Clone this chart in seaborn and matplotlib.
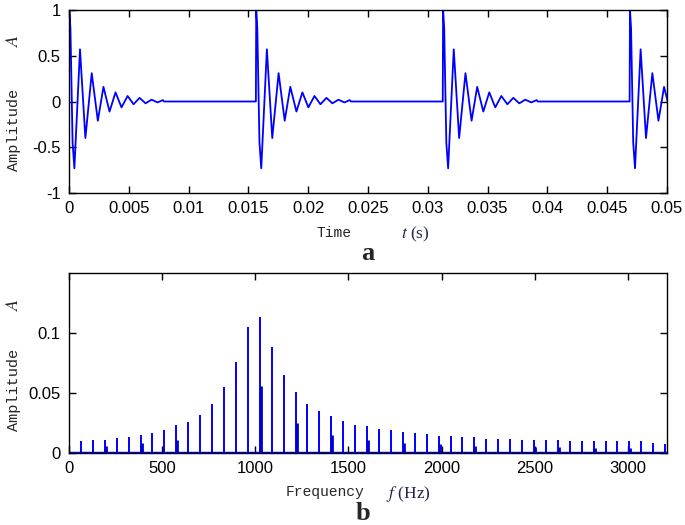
import numpy as np
import pandas as pd
import matplotlib
matplotlib.use("Agg")
import matplotlib.pyplot as plt
import seaborn as sns

# ---- data ----
# one decaying burst (time in ms from burst start, amplitude at each turning point)
burst_t_ms = [0.0, 0.03, 0.12, 0.30, 0.45, 0.92, 1.37, 1.90, 2.41, 2.88, 3.39,
              3.89, 4.39, 4.90, 5.40, 5.90, 6.40, 6.90, 7.40, 7.85, 7.95]
burst_amp = [0.0, 1.0, 0.80, -0.45, -0.73, 0.57, -0.40, 0.31, -0.21, 0.16, -0.11,
             0.10, -0.064, 0.06, -0.03, 0.04, -0.02, 0.02, -0.01, 0.015, 0.0]
burst_starts = [0.0, 0.015625, 0.03125, 0.046875]

# spectrum lines
freq_main = [0, 64, 128, 192, 256, 320, 384, 448, 512, 576, 640, 704, 768, 832,
             896, 960, 1024, 1088, 1152, 1216, 1280, 1344, 1408, 1472, 1536, 1600,
             1664, 1728, 1792, 1856, 1920, 1984, 2048, 2112, 2176, 2240, 2304, 2368,
             2432, 2496, 2560, 2624, 2688, 2752, 2816, 2880, 2944, 3008, 3072, 3136, 3200]
amp_main = [0.0097, 0.0103, 0.011, 0.011, 0.0125, 0.0136, 0.0147, 0.017, 0.0194,
            0.023, 0.026, 0.032, 0.041, 0.0547, 0.0756, 0.105, 0.113, 0.088, 0.065,
            0.0506, 0.041, 0.0353, 0.031, 0.027, 0.0236, 0.0222, 0.020, 0.0189,
            0.0178, 0.0167, 0.0158, 0.0142, 0.0142, 0.0133, 0.0133, 0.012, 0.012,
            0.012, 0.011, 0.011, 0.011, 0.011, 0.0097, 0.0097, 0.0097, 0.0097,
            0.0097, 0.0097, 0.0097, 0.0086, 0.0078]
freq_sub = [198, 390, 582, 1030, 1222, 1414, 1606, 1798, 1990, 2182, 2502, 2630, 2822, 3014]
amp_sub = [0.006, 0.0083, 0.011, 0.056, 0.025, 0.0147, 0.0106, 0.0083, 0.0072,
           0.006, 0.005, 0.005, 0.004, 0.004]

time_ticks = [0, 0.005, 0.01, 0.015, 0.02, 0.025, 0.03, 0.035, 0.04, 0.045, 0.05]
amp_ticks = [-1, -0.5, 0, 0.5, 1]
freq_ticks = [0, 500, 1000, 1500, 2000, 2500, 3000]
spec_ticks = [0, 0.05, 0.1]

# ---- style ----
sns.set_theme(style="ticks")
plt.rcParams["font.family"] = ["Liberation Sans", "DejaVu Sans"]
plt.rcParams["mathtext.fontset"] = "stix"
plt.rcParams["axes.linewidth"] = 1.0

W, H = 685, 525
fig = plt.figure(figsize=(W / 100, H / 100), dpi=100)
ax1 = fig.add_axes([69 / W, 1 - 193 / H, (667 - 69) / W, (193 - 10) / H])
ax2 = fig.add_axes([69 / W, 1 - 453 / H, (667 - 69) / W, (453 - 273) / H])

# ==========================
# a: time signal
# ==========================
sig = pd.DataFrame({
    "t": np.concatenate([s + np.array(burst_t_ms) / 1000 for s in burst_starts]),
    "a": np.tile(burst_amp, len(burst_starts)),
})
sns.lineplot(data=sig, x="t", y="a", ax=ax1, color="blue", lw=1.3,
             estimator=None, sort=False)
ax1.set_xlim(0, 0.05)
ax1.set_ylim(-1, 1)
ax1.set_xticks(time_ticks, [f"{v:g}" for v in time_ticks])
ax1.set_yticks(amp_ticks, [f"{v:g}" for v in amp_ticks])

# ==========================
# b: spectrum
# ==========================
ax2.vlines(freq_main, 0, amp_main, color="blue", lw=1.4)
ax2.vlines(freq_sub, 0, amp_sub, color="#0000c8", lw=2.0)
ax2.axhline(0, color="blue", lw=2.5)
ax2.set_xlim(0, 3210)
ax2.set_ylim(0, 0.15)
ax2.set_xticks(freq_ticks, [f"{v:g}" for v in freq_ticks])
ax2.set_yticks(spec_ticks, [f"{v:g}" for v in spec_ticks])

for ax in (ax1, ax2):
    ax.set_xlabel("")
    ax.set_ylabel("")
    ax.tick_params(direction="in", top=True, right=True, length=5, width=1,
                   labelsize=12, pad=6, colors="black")
    for sp in ax.spines.values():
        sp.set_visible(True)
        sp.set_color("black")

mono = "Liberation Mono"
navy = "#202050"
# y labels
for yc, ya in [(130, 40), (390, 304)]:
    fig.text(14 / W, 1 - yc / H, "Amplitude", family=mono, size=11,
             rotation=90, ha="center", va="center")
    fig.text(14 / W, 1 - ya / H, "$A$", size=13, rotation=90,
             ha="center", va="center")

# x labels
fig.text(334 / W, 1 - 233 / H, "Time", family=mono, size=10.5, ha="center", va="center")
fig.text(415 / W, 1 - 234 / H, "$t$ (s)", family="Liberation Serif", size=12.5,
         color=navy, ha="center", va="center")
fig.text(368 / W, 1 - 254 / H, "a", family="Liberation Serif", weight="bold",
         size=19, ha="center", va="center")

fig.text(325 / W, 1 - 492 / H, "Frequency", family=mono, size=10.5, ha="center", va="center")
fig.text(408 / W, 1 - 494 / H, "$f$ (Hz)", family="Liberation Serif", size=12.5,
         color=navy, ha="center", va="center")
fig.text(363 / W, 1 - 513 / H, "b", family="Liberation Serif", weight="bold",
         size=19, ha="center", va="center")

fig.savefig("out.png", dpi=100)
